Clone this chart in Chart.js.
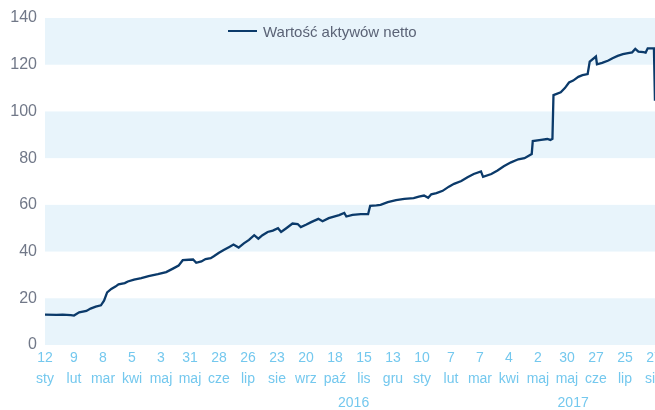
<!DOCTYPE html>
<html>
<head>
<meta charset="utf-8">
<script src="https://cdn.jsdelivr.net/npm/chart.js@4.4.1/dist/chart.umd.min.js"></script>
<style>
  html, body { margin: 0; padding: 0; background: #fff; overflow: hidden; width: 655px; height: 410px; }
  #wrap { position: relative; width: 676px; height: 410px; }
  #legend { position: absolute; left: 228px; top: 22px; height: 18px; display: flex; align-items: center;
            font: 15px "Liberation Sans", Arial, sans-serif; color: #5b6376; }
  #legend span.swatch { display: inline-block; width: 29px; height: 2px; background: #0b3a6a; margin-right: 6px; }
</style>
</head>
<body>
<div id="wrap">
  <canvas id="myChart" width="676" height="410"></canvas>
  <div id="legend"><span class="swatch"></span><span>Wartość aktywów netto</span></div>
</div>
<script>
// days counted from 12 sty 2016
const days = [0, 11, 17, 25, 28, 33, 40, 44, 49, 54, 57, 60, 64, 68, 71, 77, 80, 86, 93, 100,
  109, 117, 124, 129, 133, 139, 143, 146, 151, 155, 160, 163, 168, 173, 178, 182, 187, 192, 197, 202,
  206, 210, 215, 220, 225, 228, 233, 239, 244, 247, 252, 257, 264, 268, 274, 279, 284, 289, 291, 297,
  305, 312, 314, 320, 324, 331, 339, 347, 356, 361, 366, 370, 373, 378, 384, 390, 395, 402, 408, 414,
  421, 423, 431, 437, 443, 450, 457, 463, 470, 471, 479, 485, 488, 490, 491, 498, 502, 506, 510, 515,
  519, 524, 526, 532, 533, 538, 544, 548, 553, 558, 563, 567, 570, 573, 578, 580, 582, 588, 589];
const values = [13, 12.9, 13, 12.8, 12.6, 14, 14.6, 15.6, 16.4, 17, 19, 22.5, 24, 25, 26, 26.5, 27.2, 28, 28.6, 29.5,
  30.3, 31.2, 32.8, 34, 36.3, 36.5, 36.6, 35.2, 35.8, 36.8, 37.2, 38, 39.5, 40.8, 42, 43, 41.7, 43.5, 45, 47,
  45.5, 47, 48.4, 49, 50, 48.4, 50, 52, 51.8, 50.5, 51.5, 52.6, 54, 53, 54.3, 55, 55.6, 56.5, 55, 55.7,
  56, 56, 59.6, 59.8, 60, 61.2, 62, 62.6, 62.9, 63.5, 64, 63, 64.5, 65, 66, 67.8, 69, 70.2, 71.8, 73.2,
  74.3, 72, 73.2, 74.7, 76.5, 78.2, 79.5, 80, 81.8, 87.3, 87.8, 88.2, 87.8, 88.3, 107, 108.2, 110, 112.4, 113.2, 114.8,
  115.5, 116, 121.3, 123.5, 120.2, 120.8, 121.8, 122.8, 123.8, 124.5, 125, 125.3, 126.8, 125.6, 125.4, 125.2, 127, 127, 104.6];

const tickDays = ['12', '9', '8', '5', '3', '31', '28', '26', '23', '20', '18', '15', '13', '10', '7', '7', '4', '2', '30', '27', '25', '27'];
const tickMonths = ['sty', 'lut', 'mar', 'kwi', 'maj', 'maj', 'cze', 'lip', 'sie', 'wrz', 'paź', 'lis', 'gru', 'sty', 'lut', 'mar', 'kwi', 'maj', 'maj', 'cze', 'lip', 'sie'];
const yearLabels = ['2016', '2017'];
const yearLabelDays = [298, 510];

const blue = '#74c8ee';
const font = '"Liberation Sans", Arial, sans-serif';

const bands = {
  id: 'bands',
  beforeDatasetsDraw(chart) {
    const {ctx, chartArea, scales} = chart;
    const ticks = scales.y.ticks;
    ctx.save();
    ctx.fillStyle = '#e8f4fb';
    for (let i = 0; i < ticks.length - 1; i += 2) {
      const y1 = scales.y.getPixelForValue(ticks[i].value);
      const y2 = scales.y.getPixelForValue(ticks[i + 1].value);
      ctx.fillRect(chartArea.left, y2, chartArea.right - chartArea.left, y1 - y2);
    }
    ctx.restore();
  }
};

const years = {
  id: 'years',
  afterDraw(chart) {
    const {ctx, scales} = chart;
    ctx.save();
    ctx.fillStyle = blue;
    ctx.font = '14px ' + font;
    ctx.textAlign = 'center';
    ctx.textBaseline = 'middle';
    yearLabels.forEach((t, i) => {
      ctx.fillText(t, scales.x.getPixelForValue(yearLabelDays[i]), 403);
    });
    ctx.restore();
  }
};

let myChart = document.getElementById('myChart').getContext('2d');

let navChart = new Chart(myChart, {
  type: 'line',
  data: {
    datasets: [{
      label: 'Wartość aktywów netto',
      data: days.map((d, i) => ({x: d, y: values[i]})),
      borderColor: '#0b3a6a',
      borderWidth: 2.3,
      pointRadius: 0,
      tension: 0,
      fill: false
    }]
  },
  options: {
    responsive: false,
    animation: false,
    layout: {padding: {top: 18, right: 20, left: 0, bottom: 0}},
    plugins: {legend: {display: false}, tooltip: {enabled: false}},
    scales: {
      x: {
        type: 'linear',
        min: 0,
        max: 590,
        grid: {display: false, drawTicks: false},
        border: {display: false},
        afterFit: (scale) => { scale.height = 65; },
        ticks: {
          stepSize: 28,
          includeBounds: false,
          autoSkip: false,
          maxRotation: 0,
          padding: 3,
          color: blue,
          font: {family: font, size: 14, lineHeight: 1.5},
          callback: (value) => {
            const i = Math.round(value / 28);
            return [tickDays[i], tickMonths[i]];
          }
        }
      },
      y: {
        min: 0,
        max: 140,
        grid: {display: false, drawTicks: false},
        border: {display: false},
        afterFit: (scale) => { scale.width = 45; },
        ticks: {
          stepSize: 20,
          padding: 8,
          color: '#717888',
          font: {family: font, size: 16}
        }
      }
    }
  },
  plugins: [bands, years]
});
</script>
</body>
</html>
